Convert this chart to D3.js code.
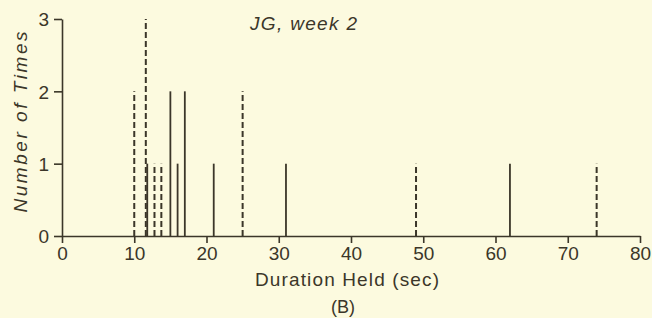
<!DOCTYPE html>
<html>
<head>
<meta charset="utf-8">
<script src="https://cdn.jsdelivr.net/npm/d3@7"></script>
<style>
  body { margin: 0; background: #fcfadf; }
  svg { display: block; }
  text { font-family: "Liberation Sans", Arial, sans-serif; fill: #3b3629; }
</style>
</head>
<body>
<script>
// durations (sec) and counts
const solidDurations = [11.8, 15, 16, 17, 21, 31, 62];
const solidCounts    = [1, 2, 1, 2, 1, 1, 1];
const dashedDurations = [10, 11.6, 12.8, 13.75, 25, 49, 74];
const dashedCounts    = [2, 3, 1, 1, 2, 1, 1];
const xTicks = [0, 10, 20, 30, 40, 50, 60, 70, 80];
const yTicks = [0, 1, 2, 3];

const ink = "#3b3629";
const w = 652, h = 318;

const svg = d3.select("body").append("svg")
    .attr("width", w)
    .attr("height", h);

const x = d3.scaleLinear().domain([0, 80]).range([62, 640]);
const y = d3.scaleLinear().domain([0, 3]).range([236, 19]);

// x axis
const gx = svg.append("g")
    .attr("transform", "translate(0," + y(0) + ")")
    .call(d3.axisBottom(x).tickValues(xTicks).tickFormat(d3.format("d"))
        .tickSize(7).tickSizeOuter(0).tickPadding(4));

// y axis
const gy = svg.append("g")
    .attr("transform", "translate(" + x(0) + ",0)")
    .call(d3.axisLeft(y).tickValues(yTicks).tickFormat(d3.format("d"))
        .tickSize(8).tickSizeOuter(0).tickPadding(5));

[gx, gy].forEach(g => {
    g.selectAll("path, line").attr("stroke", ink).attr("stroke-width", 1.6);
    g.selectAll("text").attr("fill", ink).style("font-size", "19px")
        .style("font-family", "'Liberation Sans', Arial, sans-serif");
});
gy.selectAll("text").attr("dy", "0.36em");

const solid = solidDurations.map((d, i) => ({ d: d, n: solidCounts[i] }));
const dashed = dashedDurations.map((d, i) => ({ d: d, n: dashedCounts[i] }));

svg.append("g").selectAll("line")
    .data(dashed)
    .join("line")
    .attr("x1", p => x(p.d)).attr("x2", p => x(p.d))
    .attr("y1", y(0)).attr("y2", p => y(p.n))
    .attr("stroke", ink)
    .attr("stroke-width", 2)
    .attr("stroke-dasharray", "6,3");

svg.append("g").selectAll("line")
    .data(solid)
    .join("line")
    .attr("x1", p => x(p.d)).attr("x2", p => x(p.d))
    .attr("y1", y(0)).attr("y2", p => y(p.n))
    .attr("stroke", ink)
    .attr("stroke-width", 1.8);

// title
svg.append("text")
    .attr("x", 250).attr("y", 30)
    .style("font-size", "19px")
    .style("font-style", "italic")
    .attr("textLength", 107)
    .text("JG, week 2");

// y label
svg.append("text")
    .attr("transform", "translate(27,122) rotate(-90)")
    .attr("text-anchor", "middle")
    .style("font-size", "19px")
    .style("font-style", "italic")
    .attr("textLength", 181)
    .text("Number of Times");

// x label
svg.append("text")
    .attr("x", 347).attr("y", 286)
    .attr("text-anchor", "middle")
    .style("font-size", "19px")
    .attr("textLength", 184)
    .text("Duration Held (sec)");

svg.append("text")
    .attr("x", 343).attr("y", 313)
    .attr("text-anchor", "middle")
    .style("font-size", "18px")
    .text("(B)");
</script>
</body>
</html>
